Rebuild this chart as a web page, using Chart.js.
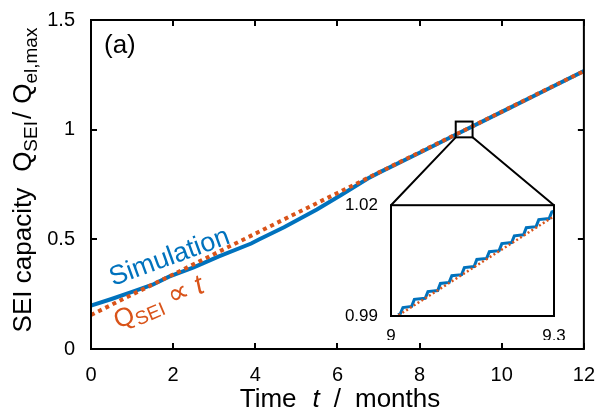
<!DOCTYPE html>
<html>
<head>
<meta charset="utf-8">
<script src="https://cdn.jsdelivr.net/npm/chart.js@4/dist/chart.umd.min.js"></script>
<style>
  html, body { margin: 0; padding: 0; background: #fff; }
  #wrap { position: relative; width: 601px; height: 417px; }
  #main { position: absolute; left: 0; top: 0; }
  #inset { position: absolute; left: 340px; top: 190px; }
</style>
</head>
<body>
<div id="wrap">
  <canvas id="main" width="601" height="417"></canvas>
  <canvas id="inset" width="235" height="150"></canvas>
</div>
<script>
// ---- data ----
const xTicks = [0, 2, 4, 6, 8, 10, 12];
const yTicks = [0, 0.5, 1, 1.5];
const simT = [0, 0.5, 1, 1.5, 1.9, 2.5, 3.1, 3.9, 4.1, 4.7, 5.5, 6.1, 6.75, 7, 8, 9, 10, 11, 12];
const simQ = [0.198, 0.228, 0.260, 0.293, 0.330, 0.372, 0.421, 0.481, 0.500, 0.555, 0.636, 0.703, 0.778, 0.803, 0.895, 0.988, 1.081, 1.174, 1.267];
const fitT = [0, 1, 2, 3, 4, 5, 6, 7, 8, 9, 10, 11, 12];
const fitQ = [0.155, 0.248, 0.340, 0.433, 0.526, 0.619, 0.711, 0.804, 0.897, 0.989, 1.082, 1.175, 1.267];
const zoomBoxT = [8.88, 9.29];
const zoomBoxQ = [0.965, 1.037];
// inset
const insetXTicks = [9, 9.3];
const insetYTicks = [0.99, 1.02];
const insetT = [9.013, 9.017, 9.022, 9.038, 9.043, 9.063, 9.068, 9.086, 9.091, 9.107, 9.112, 9.130, 9.135, 9.153, 9.158, 9.176, 9.181, 9.199, 9.204, 9.222, 9.227, 9.244, 9.249, 9.267, 9.272, 9.291, 9.296, 9.300];
const insetSim = [0.9903, 0.9906, 0.9923, 0.9926, 0.9945, 0.9948, 0.9966, 0.9969, 0.9988, 0.9991, 1.0009, 1.0012, 1.0031, 1.0034, 1.0053, 1.0056, 1.0074, 1.0077, 1.0096, 1.0099, 1.0117, 1.0120, 1.0139, 1.0142, 1.0161, 1.0164, 1.0182, 1.0184];
const insetFitT = [9.0, 9.3];
const insetFitQ = [0.9889, 1.0170];

const BLUE = '#0072BD';
const ORANGE = '#D95319';
const FONT = '"Liberation Sans", Arial, Helvetica, sans-serif';

function pts(xs, ys) { return xs.map((x, i) => ({ x: x, y: ys[i] })); }

let insetChart = null;

function drawParts(ctx, parts, align) {
  let total = 0;
  parts.forEach(p => {
    ctx.font = (p.italic ? 'italic ' : '') + p.size + 'px ' + FONT;
    p.w = ctx.measureText(p.t).width;
    total += p.w + (p.gap || 0);
  });
  let x = align === 'center' ? -total / 2 : 0;
  parts.forEach(p => {
    ctx.font = (p.italic ? 'italic ' : '') + p.size + 'px ' + FONT;
    ctx.fillText(p.t, x, p.dy || 0);
    x += p.w + (p.gap || 0);
  });
}

const framePlugin = {
  id: 'frame',
  afterDatasetsDraw(chart) {
    const ctx = chart.ctx;
    const a = chart.chartArea;
    const xs = chart.scales.x, ys = chart.scales.y;
    ctx.save();
    ctx.strokeStyle = '#000';
    ctx.lineWidth = 2;
    ctx.strokeRect(a.left, a.top, a.right - a.left, a.bottom - a.top);
    const tl = 6;
    ctx.beginPath();
    xTicks.forEach(v => {
      const px = Math.round(xs.getPixelForValue(v));
      ctx.moveTo(px, a.bottom); ctx.lineTo(px, a.bottom - tl);
      ctx.moveTo(px, a.top); ctx.lineTo(px, a.top + tl);
    });
    yTicks.forEach(v => {
      const py = Math.round(ys.getPixelForValue(v));
      ctx.moveTo(a.left, py); ctx.lineTo(a.left + tl, py);
      ctx.moveTo(a.right, py); ctx.lineTo(a.right - tl, py);
    });
    ctx.stroke();
    const bx0 = xs.getPixelForValue(zoomBoxT[0]), bx1 = xs.getPixelForValue(zoomBoxT[1]);
    const by0 = ys.getPixelForValue(zoomBoxQ[0]), by1 = ys.getPixelForValue(zoomBoxQ[1]);
    ctx.strokeRect(bx0, by1, bx1 - bx0, by0 - by1);
    if (insetChart) {
      const ia = insetChart.chartArea;
      const ox = 340, oy = 190;
      ctx.beginPath();
      ctx.moveTo(bx0, by0); ctx.lineTo(ox + ia.left, oy + ia.top);
      ctx.moveTo(bx1, by0); ctx.lineTo(ox + ia.right, oy + ia.top);
      ctx.stroke();
    }
    ctx.fillStyle = '#000';
    ctx.textBaseline = 'alphabetic';
    ctx.font = '26px ' + FONT;
    ctx.fillText('(a)', 104, 53);
    // annotations
    ctx.save();
    ctx.translate(113, 286);
    ctx.rotate(-20 * Math.PI / 180);
    ctx.fillStyle = BLUE;
    drawParts(ctx, [{ t: 'Simulation', size: 27 }], 'left');
    ctx.restore();
    ctx.save();
    ctx.translate(118, 329);
    ctx.rotate(-23 * Math.PI / 180);
    ctx.fillStyle = ORANGE;
    drawParts(ctx, [
      { t: 'Q', size: 26 },
      { t: 'SEI', size: 19, dy: 5, gap: 8 },
      { t: '\u221D', size: 30, gap: 8 },
      { t: 't', size: 28, italic: true }
    ], 'left');
    ctx.restore();
    // x title
    ctx.save();
    ctx.translate(340, 407);
    drawParts(ctx, [
      { t: 'Time', size: 26, gap: 16 },
      { t: 't', size: 26, italic: true, gap: 14 },
      { t: '/', size: 26, gap: 14 },
      { t: 'months', size: 26 }
    ], 'center');
    ctx.restore();
    // y title
    ctx.save();
    ctx.translate(31, 180);
    ctx.rotate(-Math.PI / 2);
    drawParts(ctx, [
      { t: 'SEI capacity', size: 26, gap: 16 },
      { t: 'Q', size: 26 },
      { t: 'SEI', size: 19, dy: 6, gap: 2 },
      { t: '/', size: 26, gap: 8 },
      { t: 'Q', size: 26 },
      { t: 'el,max', size: 19, dy: 6 }
    ], 'center');
    ctx.restore();
    ctx.restore();
  }
};

const mainChart = new Chart(document.getElementById('main'), {
  type: 'line',
  data: {
    datasets: [
      { label: 'Simulation', order: 1, data: pts(simT, simQ), borderColor: BLUE, borderWidth: 4, pointRadius: 0, tension: 0, fill: false },
      { label: 'Q_SEI ∝ t', order: 0, data: pts(fitT, fitQ), borderColor: ORANGE, borderWidth: 4, borderDash: [4, 4], borderCapStyle: 'butt', pointRadius: 0, tension: 0, fill: false }
    ]
  },
  options: {
    responsive: false,
    animation: false,
    events: [],
    layout: { padding: { left: 0, right: 14, top: 15, bottom: 0 } },
    plugins: { legend: { display: false }, tooltip: { enabled: false } },
    scales: {
      x: {
        type: 'linear', min: 0, max: 12,
        afterBuildTicks: s => { s.ticks = xTicks.map(v => ({ value: v })); },
        afterFit: s => { s.height = 68; },
        grid: { display: false }, border: { display: false },
        ticks: { color: '#000', font: { family: FONT, size: 20 }, padding: 6, maxRotation: 0, autoSkip: false, callback: v => String(v) }
      },
      y: {
        type: 'linear', min: 0, max: 1.5,
        afterBuildTicks: s => { s.ticks = yTicks.map(v => ({ value: v })); },
        afterFit: s => { s.width = 91; },
        grid: { display: false }, border: { display: false },
        ticks: { color: '#000', font: { family: FONT, size: 20 }, padding: 8, autoSkip: false, callback: v => String(v) }
      }
    }
  },
  plugins: [framePlugin]
});

const insetFrame = {
  id: 'insetFrame',
  beforeDraw(chart) {
    const ctx = chart.ctx;
    const a = chart.chartArea;
    ctx.save();
    ctx.fillStyle = '#fff';
    ctx.fillRect(a.left, a.top, a.right - a.left, a.bottom - a.top);
    ctx.restore();
  },
  afterDatasetsDraw(chart) {
    const ctx = chart.ctx;
    const a = chart.chartArea;
    ctx.save();
    ctx.strokeStyle = '#000';
    ctx.lineWidth = 2;
    ctx.strokeRect(a.left, a.top, a.right - a.left, a.bottom - a.top);
    ctx.restore();
  }
};

insetChart = new Chart(document.getElementById('inset'), {
  type: 'line',
  data: {
    datasets: [
      { order: 1, data: pts(insetT, insetSim), borderColor: BLUE, borderWidth: 3, pointRadius: 0, tension: 0, fill: false },
      { order: 0, data: pts(insetFitT, insetFitQ), borderColor: ORANGE, borderWidth: 2.5, borderDash: [2, 2.5], pointRadius: 0, tension: 0, fill: false }
    ]
  },
  options: {
    responsive: false,
    animation: false,
    events: [],
    layout: { padding: { left: 0, right: 21, top: 15, bottom: 0 } },
    plugins: { legend: { display: false }, tooltip: { enabled: false } },
    scales: {
      x: {
        type: 'linear', min: 9, max: 9.3,
        afterBuildTicks: s => { s.ticks = insetXTicks.map(v => ({ value: v })); },
        afterFit: s => { s.height = 24; },
        grid: { display: false }, border: { display: false },
        ticks: { color: '#000', font: { family: FONT, size: 17 }, padding: 2, maxRotation: 0, autoSkip: false, callback: v => String(v) }
      },
      y: {
        type: 'linear', min: 0.99, max: 1.02,
        afterBuildTicks: s => { s.ticks = insetYTicks.map(v => ({ value: v })); },
        afterFit: s => { s.width = 51; },
        grid: { display: false }, border: { display: false },
        ticks: { color: '#000', font: { family: FONT, size: 17 }, padding: 5, autoSkip: false, callback: v => v.toFixed(2) }
      }
    }
  },
  plugins: [insetFrame]
});

mainChart.draw();
</script>
</body>
</html>
